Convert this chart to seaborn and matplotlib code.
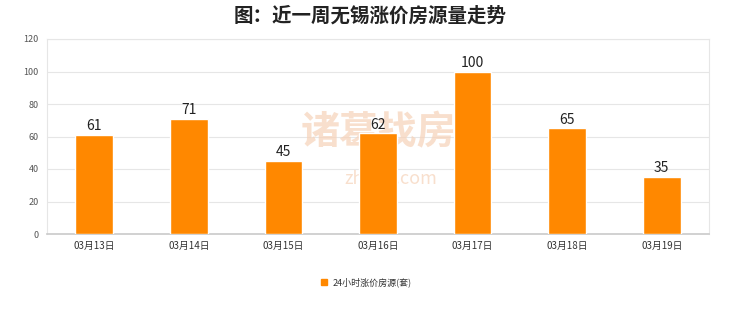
import matplotlib
matplotlib.use("Agg")
import matplotlib.pyplot as plt
import seaborn as sns
import pandas as pd

dates = ["03月13日", "03月14日", "03月15日", "03月16日", "03月17日", "03月18日", "03月19日"]
values = [61, 71, 45, 62, 100, 65, 35]
series_name = "24小时涨价房源(套)"
title = "图：近一周无锡涨价房源量走势"
yticks = [0, 20, 40, 60, 80, 100, 120]

sns.set_theme(style="white")
plt.rcParams['font.family'] = ['Noto Sans CJK SC', 'DejaVu Sans']

df = pd.DataFrame({"date": dates, "value": values, "series": series_name})

fig = plt.figure(figsize=(7.4, 3.12), dpi=100)
ax = fig.add_axes([47/740, 1-234/312, (709-47)/740, (234-39)/312])

sns.barplot(data=df, x="date", y="value", hue="series", palette=["#FF8800"],
            width=0.4, ax=ax, saturation=1, legend=False, zorder=3)

for i, v in enumerate(values):
    ax.text(i, v + 1, str(v), ha="center", va="bottom", fontsize=10, color="#222222", zorder=5)

ax.set_ylim(0, 120)
ax.set_yticks(yticks)
ax.set_xlim(-0.5, len(dates) - 0.5)
ax.yaxis.grid(True, color="#e6e6e6", linewidth=0.8)
ax.set_axisbelow(True)
for s in ["left", "right", "top"]:
    ax.spines[s].set_color("#e6e6e6")
    ax.spines[s].set_linewidth(0.8)
ax.spines["bottom"].set_color("#cccccc")
ax.tick_params(axis="y", labelsize=6.5, colors="#555555", length=0, pad=6)
ax.tick_params(axis="x", labelsize=7, colors="#333333", length=0, pad=5)
ax.set_xlabel("")
ax.set_ylabel("")

fig.text(0.5, 1-16/312, title, ha="center", va="center", fontsize=14,
         fontweight="bold", color="#222222")

# watermark (behind bars)
ax.text(0.5, 0.52, "诸葛找房", transform=ax.transAxes, ha="center", va="center",
        fontsize=28, color="#f6d2b8", alpha=0.7, fontweight="bold", zorder=1)
ax.text(0.52, 0.28, "zhuge.com", transform=ax.transAxes, ha="center", va="center",
        fontsize=13, color="#f6d2b8", alpha=0.7, zorder=1)

# legend
fig.patches.append(plt.Rectangle((321/740, 1-285/312), 6/740, 6/312,
                                 transform=fig.transFigure, color="#FF8800"))
fig.text(333/740, 1-282/312, series_name, ha="left", va="center", fontsize=6.5, color="#333333")

fig.savefig("out.png", dpi=100)
